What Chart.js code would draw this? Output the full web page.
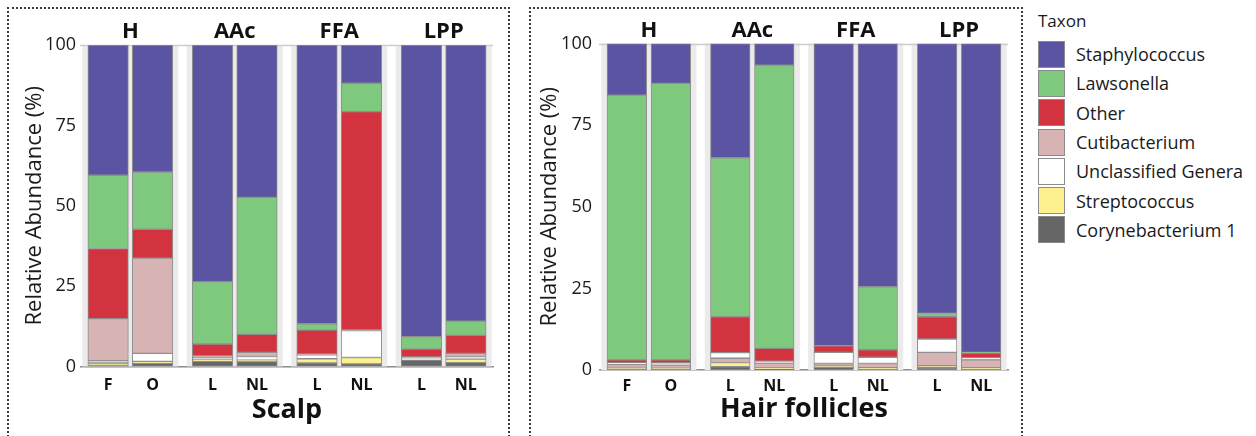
<!DOCTYPE html>
<html><head><meta charset="utf-8">
<script src="https://cdn.jsdelivr.net/npm/chart.js@4.4.1/dist/chart.umd.min.js"></script>
<style>
html,body{margin:0;padding:0;background:#fff;}
body{width:1256px;height:436px;position:relative;overflow:hidden;font-family:'Open Sans',sans-serif;color:#1a1a1a;}
.box{position:absolute;border:2px dotted #3a3a3a;box-sizing:border-box;pointer-events:none;}
.wrap{position:absolute;top:0;height:436px;width:515px;}
#legend{position:absolute;left:1038px;top:0;width:218px;height:300px;}
#legend .lt{position:absolute;left:0;top:9px;font-size:17px;line-height:24px;}
#legend .items{position:absolute;left:0;top:39.5px;}
#legend .li{display:flex;align-items:center;height:29.3px;font-size:18px;white-space:nowrap;}
#legend .sw{display:inline-block;width:27px;height:27px;box-sizing:border-box;border:1px solid #8a8a8a;margin-right:11px;flex:none;}
</style></head>
<body>
<div class="wrap" style="left:0"><canvas id="scalp"></canvas></div>
<div class="wrap" style="left:515px"><canvas id="follicle"></canvas></div>
<div class="box" style="left:7px;top:7px;width:503px;height:470px"></div>
<div class="box" style="left:529px;top:7px;width:494px;height:470px"></div>
<div id="legend"><div class="lt">Taxon</div><div class="items" id="legendItems"></div></div>
<script>
// ---------- data ----------
const taxa = ['Staphylococcus','Lawsonella','Other','Cutibacterium','Unclassified Genera','Streptococcus','Corynebacterium 1'];
const facets = ['H','AAc','FFA','LPP'];
const sampleLabels = ['F','O','L','NL','L','NL','L','NL'];
const facetOfBar = [0,0,1,1,2,2,3,3];
const yTicks = [0,25,50,75,100];

// Scalp (%)
const scalpStaphylococcus = [40.5,39.5,73.6,47.4,86.7,11.9,90.7,85.9];
const scalpLawsonella     = [22.8,17.8,19.4,42.6, 2.0, 8.8, 3.9, 4.4];
const scalpOther          = [21.8, 9.0, 3.6, 5.6, 7.4,67.9, 2.4, 5.6];
const scalpCutibacterium  = [13.1,29.6, 0.8, 1.3, 0.3, 0.2, 0.3, 1.0];
const scalpUnclassified   = [ 0.7, 2.5, 0.5, 1.1, 1.2, 8.4, 0.3, 0.8];
const scalpStreptococcus  = [ 0.8, 0.6, 0.5, 0.5, 1.3, 2.0, 0.4, 1.1];
const scalpCorynebacterium= [ 0.3, 1.0, 1.6, 1.5, 1.1, 0.8, 2.0, 1.2];

// Hair follicles (%)
const follicleStaphylococcus = [15.8,12.2,35.0, 6.6,92.6,74.5,82.7,94.6];
const follicleLawsonella     = [81.1,84.7,48.7,86.8, 0.0,19.3, 1.0, 0.2];
const follicleOther          = [ 0.9, 0.9,11.0, 3.9, 2.0, 2.3, 6.8, 1.4];
const follicleCutibacterium  = [ 0.9, 0.7, 1.3, 1.5, 0.8, 1.3, 4.1, 2.4];
const follicleUnclassified   = [ 0.5, 0.7, 1.7, 0.6, 3.4, 1.9, 4.1, 0.7];
const follicleStreptococcus  = [ 0.5, 0.5, 1.3, 0.4, 0.4, 0.4, 0.6, 0.4];
const follicleCorynebacterium= [ 0.3, 0.3, 1.0, 0.2, 0.8, 0.3, 0.7, 0.3];

// stacking order, bottom to top
const scalpStackOrder    = ['Corynebacterium 1','Streptococcus','Unclassified Genera','Cutibacterium','Other','Lawsonella','Staphylococcus'];
const follicleStackOrder = ['Corynebacterium 1','Streptococcus','Cutibacterium','Unclassified Genera','Other','Lawsonella','Staphylococcus'];

// ---------- styles ----------
const COLORS = {
  'Staphylococcus':'#5b54a3','Lawsonella':'#7fc97f','Other':'#d3333f','Cutibacterium':'#d8b3b3',
  'Unclassified Genera':'#ffffff','Streptococcus':'#fdf08f','Corynebacterium 1':'#666666'
};
const FONT = "'Open Sans', sans-serif";
const FACET_STEP = 2.35, SIDE = 0.61, FACET_HALF = 1.08;

const scalpValues = {
  'Staphylococcus':scalpStaphylococcus,'Lawsonella':scalpLawsonella,'Other':scalpOther,
  'Cutibacterium':scalpCutibacterium,'Unclassified Genera':scalpUnclassified,
  'Streptococcus':scalpStreptococcus,'Corynebacterium 1':scalpCorynebacterium
};
const follicleValues = {
  'Staphylococcus':follicleStaphylococcus,'Lawsonella':follicleLawsonella,'Other':follicleOther,
  'Cutibacterium':follicleCutibacterium,'Unclassified Genera':follicleUnclassified,
  'Streptococcus':follicleStreptococcus,'Corynebacterium 1':follicleCorynebacterium
};

const facetBgPlugin = {
  id:'facetBg',
  beforeDatasetsDraw(chart){
    const {ctx, chartArea, scales} = chart;
    const x = scales.x, y = scales.y;
    ctx.save();
    ctx.fillStyle = '#ebebeb';
    facets.forEach((f, i) => {
      const c = i*FACET_STEP + 0.5;
      const l = x.getPixelForValue(c - FACET_HALF), r = x.getPixelForValue(c + FACET_HALF);
      ctx.fillRect(l, chartArea.top, r - l, chartArea.bottom - chartArea.top);
    });
    const yt = Math.round(y.getPixelForValue(100)) + 0.5;
    ctx.strokeStyle = '#cdcdcd'; ctx.lineWidth = 1.5;
    ctx.beginPath(); ctx.moveTo(chartArea.left - 1, yt); ctx.lineTo(chartArea.right, yt); ctx.stroke();
    ctx.restore();
  }
};

function buildChart(id, values, order, title, g){
  const xs = sampleLabels.map((_, i) => facetOfBar[i]*FACET_STEP + (i % 2));
  const facetCenters = facets.map((_, f) => f*FACET_STEP + 0.5);
  const xmin = xs[0] - SIDE, xmax = xs[xs.length-1] + SIDE;
  const datasets = order.map(name => ({
    label:name,
    data: values[name].map((v, i) => ({x: xs[i], y: v})),
    backgroundColor: COLORS[name],
    borderColor: '#8f8f8f',
    borderWidth: ctx => (ctx.raw && ctx.raw.y > 0) ? 1 : 0,
    borderSkipped: false,
    barThickness: g.barW
  }));
  return new Chart(document.getElementById(id), {
    type:'bar',
    data:{datasets},
    plugins:[facetBgPlugin],
    options:{
      responsive:true, maintainAspectRatio:false, animation:false, devicePixelRatio:1,
      layout:{padding:{left:g.padL, right:g.padR, top:0, bottom:0}},
      plugins:{legend:{display:false}, tooltip:{enabled:false}},
      scales:{
        x:{
          type:'linear', position:'bottom', min:xmin, max:xmax, offset:false, stacked:true,
          grid:{display:false, drawTicks:false},
          border:{display:true, color:'#8a8a8a', width:1.5},
          afterBuildTicks: s => { s.ticks = xs.map(v => ({value:v})); },
          ticks:{autoSkip:false, maxRotation:0, minRotation:0, padding:g.xTickPad, color:'#111',
            font:{family:FONT, size:16, weight:'bold'}, callback:(v, i) => sampleLabels[i]},
          title:{display:true, text:title, color:'#111', font:{family:FONT, size:27, weight:'bold'},
            padding:{top:0, bottom:g.titlePadB}},
          afterFit: s => { s.height = g.bottomH; }
        },
        facet:{
          type:'linear', axis:'x', position:'top', min:xmin, max:xmax, offset:false,
          grid:{display:false, drawTicks:false}, border:{display:false},
          afterBuildTicks: s => { s.ticks = facetCenters.map(v => ({value:v})); },
          ticks:{autoSkip:false, maxRotation:0, minRotation:0, padding:g.facetPad, color:'#111',
            font:{family:FONT, size:22, weight:'bold'}, callback:(v, i) => facets[i]},
          afterFit: s => { s.height = g.topH; }
        },
        y:{
          stacked:true, min:0, max:100,
          afterBuildTicks: s => { s.ticks = yTicks.map(v => ({value:v})); },
          grid:{display:false, drawTicks:false}, border:{display:false},
          ticks:{padding:g.yTickPad, color:'#1a1a1a', font:{family:FONT, size:18}},
          title:{display:true, text:'Relative Abundance (%)', color:'#1a1a1a',
            font:{family:FONT, size:22}, padding:{top:0, bottom:0}},
          afterFit: s => { s.width = g.leftW; }
        }
      }
    }
  });
}

buildChart('scalp', scalpValues, scalpStackOrder, 'Scalp',
  {padL:22, padR:22, leftW:59, topH:45, bottomH:69.5, barW:40.5, xTickPad:9, titlePadB:9, facetPad:0, yTickPad:5});
buildChart('follicle', follicleValues, follicleStackOrder, 'Hair follicles',
  {padL:22, padR:22, leftW:63, topH:43.5, bottomH:66, barW:39.6, xTickPad:7, titlePadB:10, facetPad:0, yTickPad:8});

// legend
document.getElementById('legendItems').innerHTML = taxa.map(t =>
  `<div class="li"><span class="sw" style="background:${COLORS[t]}"></span><span>${t}</span></div>`).join('');
</script>
</body></html>
